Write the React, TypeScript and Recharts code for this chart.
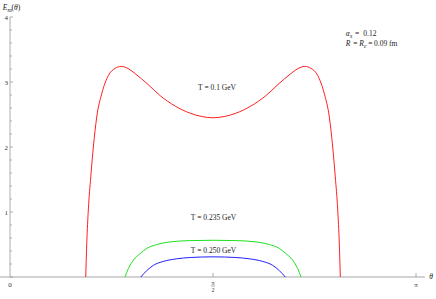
import React from 'react';
import { LineChart, Line, XAxis, YAxis, ReferenceLine, Customized } from 'recharts';

const PI = Math.PI;

// theta (rad) / E values
const redTheta = [0.586, 0.594, 0.606, 0.625, 0.645, 0.671, 0.71, 0.761, 0.813, 0.86, 0.92, 0.968, 1.069, 1.162, 1.278, 1.394, 1.48, 1.571, 1.662, 1.748, 1.864, 1.98, 2.073, 2.174, 2.222, 2.282, 2.329, 2.381, 2.432, 2.471, 2.497, 2.517, 2.536, 2.548, 2.556];
const redE = [0, 0.52, 1.03, 1.54, 2.0, 2.46, 2.82, 3.1, 3.21, 3.24, 3.2, 3.13, 2.96, 2.79, 2.63, 2.52, 2.47, 2.45, 2.47, 2.52, 2.63, 2.79, 2.96, 3.13, 3.2, 3.24, 3.21, 3.1, 2.82, 2.46, 2.0, 1.54, 1.03, 0.52, 0];

const greenTheta = [0.89, 0.916, 0.955, 1.007, 1.059, 1.136, 1.239, 1.394, 1.571, 1.748, 1.903, 2.006, 2.083, 2.135, 2.187, 2.226, 2.252];
const greenE = [0, 0.13, 0.26, 0.36, 0.44, 0.5, 0.54, 0.56, 0.565, 0.56, 0.54, 0.5, 0.44, 0.36, 0.26, 0.13, 0];

const blueTheta = [1.012, 1.059, 1.11, 1.187, 1.291, 1.394, 1.571, 1.748, 1.851, 1.955, 2.032, 2.083, 2.13];
const blueE = [0, 0.1, 0.18, 0.24, 0.28, 0.3, 0.31, 0.3, 0.28, 0.24, 0.18, 0.1, 0];

const yTicks = [0, 0.2, 0.4, 0.6, 0.8, 1, 1.2, 1.4, 1.6, 1.8, 2, 2.2, 2.4, 2.6, 2.8, 3, 3.2, 3.4, 3.6, 3.8, 4];
const xTicks = [0, PI / 2, PI];

const toPoints = (t: number[], e: number[]) => t.map((theta, i) => ({ theta, e: e[i] }));

const FONT = '"Liberation Serif", "DejaVu Serif", serif';
const PLOT_LEFT = 10;
const AXIS_Y = 277;

function YTick({ y, payload }: any) {
  const v = payload.value as number;
  const major = Math.abs(v - Math.round(v)) < 1e-6;
  return (
    <g>
      <line x1={PLOT_LEFT} x2={PLOT_LEFT + (major ? 3 : 2)} y1={y} y2={y} stroke="#999" strokeWidth={0.8} />
      {major && v > 0 && (
        <text x={PLOT_LEFT - 2} y={y} dy={2.5} textAnchor="end" fontSize={7} fontFamily={FONT} fill="#333">
          {v}
        </text>
      )}
    </g>
  );
}

function XTick({ x, payload }: any) {
  const v = payload.value as number;
  if (v === 0) {
    return (
      <text x={x} y={AXIS_Y + 10} textAnchor="middle" fontSize={7} fontFamily={FONT} fill="#333">0</text>
    );
  }
  const half = v < 2;
  return (
    <g>
      <line x1={x} x2={x} y1={AXIS_Y - 4} y2={AXIS_Y} stroke="#999" strokeWidth={0.8} />
      {half ? (
        <g fontSize={6} fontFamily={FONT} fill="#333" textAnchor="middle">
          <text x={x} y={AXIS_Y + 7.5}>π</text>
          <line x1={x - 2} x2={x + 2} y1={AXIS_Y + 9} y2={AXIS_Y + 9} stroke="#555" strokeWidth={0.5} />
          <text x={x} y={AXIS_Y + 15}>2</text>
        </g>
      ) : (
        <text x={x} y={AXIS_Y + 10} textAnchor="middle" fontSize={7} fontFamily={FONT} fill="#333">π</text>
      )}
    </g>
  );
}

function Annotations() {
  const t = { fontFamily: FONT, fontSize: 7.5, fill: '#222' };
  const sub = { fontFamily: FONT, fontSize: 6, fill: '#222', fontStyle: 'italic' };
  return (
    <g>
      <text x={2.7} y={10} {...t} fontStyle="italic">E</text>
      <text x={7.4} y={11.5} {...sub}>m</text>
      <text x={11.5} y={10} {...t}>(<tspan fontStyle="italic">θ</tspan>)</text>
      <text x={431} y={279} {...t} fontStyle="italic" textAnchor="middle">θ</text>

      <text x={345.7} y={36} {...t} fontStyle="italic">α</text>
      <text x={350} y={37.5} {...sub}>s</text>
      <text x={355} y={36} {...t}>=</text>
      <text x={363.3} y={36} {...t}>0.12</text>

      <text x={345.7} y={46} {...t} fontStyle="italic">R</text>
      <text x={353.3} y={46} {...t}>=</text>
      <text x={359.3} y={46} {...t} fontStyle="italic">R</text>
      <text x={364} y={47.5} {...sub}>c</text>
      <text x={368.3} y={46} {...t}>=</text>
      <text x={374} y={46} {...t}>0.09 fm</text>

      <text x={217} y={90} {...t} textAnchor="middle">T = 0.1 GeV</text>
      <text x={213.5} y={219.5} {...t} textAnchor="middle">T = 0.235 GeV</text>
      <text x={213.5} y={252.5} {...t} textAnchor="middle">T = 0.250 GeV</text>
    </g>
  );
}

export default function App() {
  return (
    <div style={{ position: 'fixed', left: 0, top: 0, width: 436, height: 299, background: '#fff' }}>
      <LineChart width={436} height={299} margin={{ top: 17, right: 20, bottom: 0, left: 0 }}>
        <XAxis
          type="number"
          dataKey="theta"
          domain={[0, PI]}
          ticks={xTicks}
          allowDataOverflow
          axisLine={false}
          tickLine={false}
          interval={0}
          height={22}
          tick={<XTick />}
        />
        <YAxis
          type="number"
          domain={[0, 4]}
          ticks={yTicks}
          interval={0}
          width={10}
          axisLine={{ stroke: '#999', strokeWidth: 0.8 }}
          tickLine={false}
          tick={<YTick />}
        />
        <ReferenceLine
          segment={[{ x: -0.078, y: 0 }, { x: 3.21, y: 0 }]}
          stroke="#d2d2d2"
          strokeWidth={2}
          ifOverflow="visible"
        />
        <Line data={toPoints(redTheta, redE)} dataKey="e" type="monotone" stroke="#ff2020" strokeWidth={1} dot={false} isAnimationActive={false} />
        <Line data={toPoints(greenTheta, greenE)} dataKey="e" type="monotone" stroke="#20e020" strokeWidth={1} dot={false} isAnimationActive={false} />
        <Line data={toPoints(blueTheta, blueE)} dataKey="e" type="monotone" stroke="#2020ff" strokeWidth={1} dot={false} isAnimationActive={false} />
        <Customized component={Annotations} />
      </LineChart>
    </div>
  );
}
